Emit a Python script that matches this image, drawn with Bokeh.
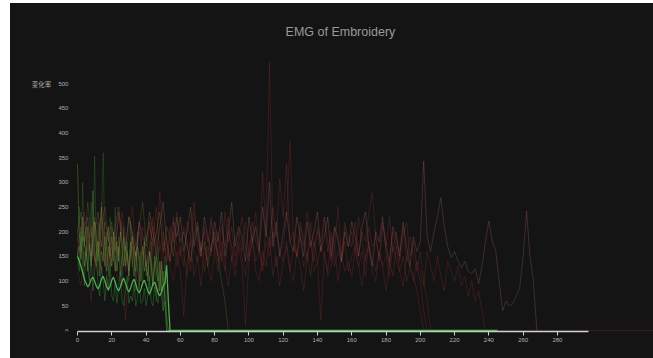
from bokeh.plotting import figure
from bokeh.models import Label, FixedTicker, Range1d, Spacer, ColumnDataSource
from bokeh.layouts import row, column
from bokeh.core.properties import value
from bokeh.embed import file_html
from bokeh.resources import INLINE

title_text = "EMG of Embroidery"
y_label_text = "变化率"
x_ticks = [0, 20, 40, 60, 80, 100, 120, 140, 160, 180, 200, 220, 240, 260, 280]
y_ticks = [0, 50, 100, 150, 200, 250, 300, 350, 400, 450, 500]
y_tick_labels = [str(v) for v in y_ticks]

# green / yellow channels, one sample per x unit
g1 = [150, 142, 130, 118, 104, 96, 88, 94, 104, 108, 100, 90, 84, 92, 104, 110, 100, 88, 82, 90,
      102, 108, 98, 86, 80, 88, 100, 106, 96, 84, 78, 86, 98, 104, 94, 82, 76, 84, 96, 102,
      92, 80, 74, 82, 94, 98, 88, 76, 70, 78, 90, 96, 132, 60, 0]
g2 = [180, 250, 140, 300, 170, 210, 120, 190, 260, 150, 353, 160, 220, 130, 240, 360, 150, 200, 110, 230,
      170, 140, 250, 120, 190, 160, 90, 210, 140, 180, 100, 220, 130, 170, 80, 200, 120, 160, 90, 190,
      110, 150, 70, 180, 100, 140, 60, 170, 90, 130, 40, 150, 20, 0]
g3 = [160, 120, 200, 140, 90, 170, 130, 100, 150, 80, 120, 160, 90, 70, 130, 100, 60, 110, 80, 140,
      70, 60, 100, 55, 90, 120, 60, 50, 80, 110, 55, 70, 60, 95, 50, 65, 100, 55, 60, 85,
      50, 70, 110, 60, 50, 90, 65, 55, 120, 70, 40, 60, 0]
g4 = [150, 170, 145, 190, 130, 160, 120, 175, 140, 283, 150, 130, 180, 110, 160, 140, 190, 120, 170, 150,
      130, 200, 140, 120, 170, 110, 150, 190, 130, 160, 120, 180, 140, 110, 160, 130, 100, 150, 170, 120,
      140, 100, 160, 130, 90, 150, 120, 100, 140, 80, 120, 60, 0]
g5 = [337, 200, 160, 230, 180, 150, 210, 170, 130, 190, 220, 160, 140, 200, 250, 170, 130, 180, 210, 150,
      190, 160, 120, 180, 140, 200, 160, 130, 170, 150, 110, 160, 190, 140, 120, 170, 150, 100, 140, 180,
      130, 110, 160, 140, 90, 130, 150, 110, 80, 140, 100, 70, 30, 0]
# olive channel, one sample per 2 x units
o1 = [200, 240, 170, 260, 190, 230, 150, 210, 250, 180, 220, 160, 240, 200, 170, 230, 190, 150, 210, 260,
      180, 220, 170, 200, 240, 160, 210, 190, 150, 230, 180, 200, 170, 140, 190, 220, 160, 180, 130, 170,
      200, 150, 100, 60, 0]
# red channels, one sample per 2 x units
r1 = [160, 210, 180, 230, 150, 200, 240, 170, 220, 190, 140, 210, 250, 180, 160, 230, 200, 150, 220, 190,
      170, 240, 200, 150, 210, 260, 180, 140, 220, 190, 230, 160, 200, 250, 170, 210, 150, 230, 190, 160,
      220, 180, 240, 150, 200, 260, 170, 210, 190, 140, 230, 180, 210, 160, 250, 190, 300, 170, 220, 150,
      200, 240, 180, 160, 230, 190, 150, 220, 170, 200, 240, 160, 190, 230, 150, 210, 180, 140, 200, 170,
      220, 190, 150, 210, 240, 170, 130, 200, 180, 230, 160, 140, 210, 190, 150, 220, 170, 130, 190, 160,
      180, 343, 190, 160, 200, 230, 269, 210, 170, 148, 160, 140, 127, 140, 120, 115, 125, 95, 130, 180,
      222, 180, 162, 100, 40, 60, 50, 54, 70, 87, 150, 242, 150, 101, 0]
r2 = [130, 180, 220, 160, 200, 140, 190, 230, 170, 120, 210, 180, 150, 240, 190, 130, 200, 170, 220, 160,
      140, 210, 180, 250, 160, 200, 130, 190, 230, 170, 150, 210, 180, 120, 240, 190, 160, 200, 140, 220,
      180, 150, 210, 170, 230, 140, 190, 200, 160, 220, 150, 180, 240, 170, 130, 210, 543, 190, 200, 160,
      170, 230, 384, 180, 150, 210, 190, 140, 220, 170, 200, 160, 230, 180, 140, 210, 190, 150, 220, 170,
      200, 160, 230, 180, 140, 210, 170, 190, 150, 220, 180, 130, 200, 170, 160, 210, 140, 190, 150, 120,
      160, 100, 60, 0]
r3 = [200, 150, 240, 180, 130, 220, 170, 260, 190, 140, 210, 160, 230, 180, 120, 200, 250, 170, 140, 210,
      190, 150, 230, 170, 280, 200, 140, 210, 180, 240, 160, 130, 220, 190, 260, 170, 150, 210, 180, 230,
      160, 200, 140, 240, 180, 210, 150, 190, 230, 170, 140, 220, 180, 160, 320, 200, 170, 250, 190, 307,
      230, 337, 180, 200, 150, 220, 170, 240, 190, 140, 210, 180, 230, 160, 200, 170, 250, 140, 210, 190,
      170, 220, 150, 200, 180, 240, 279, 190, 140, 210, 170, 230, 160, 200, 140, 190, 220, 150, 180, 130,
      100, 40, 0]
r4 = [120, 90, 160, 130, 60, 150, 110, 180, 140, 80, 170, 120, 100, 150, 20, 130, 170, 110, 90, 160,
      140, 100, 170, 120, 80, 150, 190, 130, 100, 160, 120, 30, 140, 180, 110, 150, 90, 170, 130, 100,
      160, 120, 180, 140, 90, 150, 110, 170, 130, 10, 140, 180, 120, 100, 160, 130, 190, 110, 150, 90,
      140, 170, 120, 100, 160, 130, 80, 150, 180, 120, 140, 20, 160, 110, 130, 170, 100, 150, 120, 140,
      110, 160, 130, 90, 150, 170, 120, 100, 160, 130, 80, 140, 110, 170, 120, 90, 150, 130, 100, 140,
      120, 90, 160, 130, 100, 150, 110, 80, 140, 120, 100, 130, 90, 110, 70, 100, 60, 80, 40, 0]
r5 = [150, 190, 130, 170, 210, 140, 180, 120, 200, 160, 130, 190, 150, 220, 170, 120, 180, 140, 200, 160,
      130, 170, 210, 150, 120, 180, 160, 140, 200, 130, 170, 150, 110, 190, 160, 140, 180, 120, 170, 150,
      190, 140, 160, 120, 200, 170, 130, 180, 150, 110, 170, 190, 140, 160, 120, 180, 150, 200, 130, 160,
      140, 180, 120, 170, 150, 190, 130, 160, 110, 180, 140, 170, 150, 120, 190, 130, 160, 140, 180, 120,
      150, 170, 130, 160, 110, 180, 140, 120, 160, 130, 150, 110, 170, 140, 120, 150, 100, 130, 110, 80,
      40, 0]

series_values = [r5, r4, r3, r2, r1, o1, g5, g4, g3, g2, g1]
series_step = [2, 2, 2, 2, 2, 2, 1, 1, 1, 1, 1]
series_zero_until = [None, None, None, 340, None, None, 245, 245, 245, 245, 245]
series_color = ["#b03838", "#903030", "#b03a3a", "#a83434", "#a86868", "#907838",
                "#b8c040", "#80b048", "#2e8a34", "#3a9040", "#5ccf5c"]
series_alpha = [0.24, 0.3, 0.24, 0.26, 0.3, 0.28, 0.28, 0.32, 0.45, 0.28, 0.8]
series_width = [1, 1, 1, 1, 1, 1, 1, 1, 1, 1, 1.3]

p = figure(width=643, height=355, output_backend="svg", toolbar_location=None,
           x_range=Range1d(-39.09, 336.06), y_range=Range1d(-2, 662),
           y_axis_location=None,
           min_border_left=0, min_border_right=0, min_border_top=0, min_border_bottom=27,
           background_fill_color=None, border_fill_color=None,
           outline_line_color=None)
p.styles = {"background-color": "#141414"}
p.grid.visible = False

for vals, step, zu, col, a, w in zip(series_values, series_step, series_zero_until,
                                     series_color, series_alpha, series_width):
    xs = [i * step for i in range(len(vals))]
    ys = list(vals)
    if zu is not None:
        xs.append(zu)
        ys.append(0)
    r = p.line(xs, ys, line_color=col, line_alpha=a, line_width=w)
    if w > 1.2:
        r.level = "overlay"

p.xaxis.ticker = FixedTicker(ticks=x_ticks)
p.xaxis.bounds = (0, 298)
p.xaxis.axis_line_color = "#d0d0d0"
p.xaxis.axis_line_width = 1.5
p.xaxis.major_tick_line_color = "#d0d0d0"
p.xaxis.major_tick_out = 4
p.xaxis.major_tick_in = 0
p.xaxis.minor_tick_line_color = None
p.xaxis.major_label_text_font_size = "6px"
p.xaxis.major_label_text_color = "#b0b0b0"
p.xaxis.major_label_text_font = "Liberation Sans"
p.xaxis.major_label_standoff = 2

# y tick labels drawn as text at the tick values, just left of x = 0
ysrc = ColumnDataSource(dict(y=y_ticks, t=y_tick_labels))
p.text(x=-5.3, y="y", text="t", source=ysrc, text_align="right", text_baseline="middle",
       text_font=value("Liberation Sans"), text_font_size="6px", text_color="#b0b0b0")

p.add_layout(Label(x=153.4, y=605, text=title_text, text_align="center", text_baseline="middle",
                   text_font="Liberation Sans", text_font_size="12.5px", text_color="#9a9a9a"))
p.add_layout(Label(x=-21.0, y=500, text=y_label_text, text_align="center", text_baseline="middle",
                   text_font="Noto Sans CJK SC", text_font_size="6.5px", text_color="#b0b0b0"))

layout = row(Spacer(width=10), column(Spacer(height=3), p))
open("out.html", "w").write(file_html(layout, INLINE))
